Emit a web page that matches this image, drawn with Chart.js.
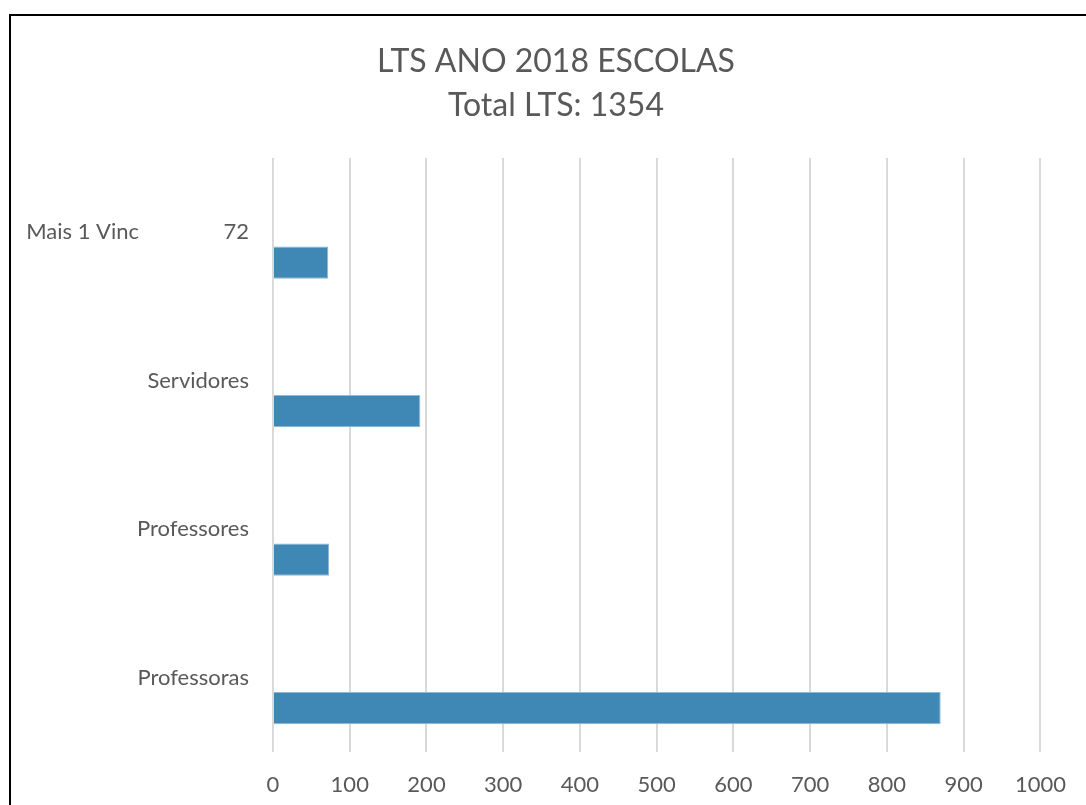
<!DOCTYPE html>
<html lang="pt">
<head>
    <meta charset="UTF-8">
    <title>LTS ANO 2018 ESCOLAS</title>
    <script src="https://cdn.jsdelivr.net/npm/chart.js"></script>
    <style>
        html, body { margin: 0; padding: 0; background: #fff; overflow: hidden; }
        #frame { position: absolute; left: 9px; top: 14px; width: 1200px; height: 900px; border: 2px solid #000; box-sizing: border-box; }
        #wrap { position: absolute; left: 0; top: 0; width: 1086px; height: 805px; }
    </style>
</head>
<body>
    <div id="frame"></div>
    <div id="wrap"><canvas id="ltsChart" width="1086" height="805"></canvas></div>
    <script>
        // Dados
        const titleLines = ['LTS ANO 2018 ESCOLAS', 'Total LTS: 1354'];
        const categories = ['Mais 1 Vinc               72', 'Servidores', 'Professores', 'Professoras'];
        const values = [72, 192, 73, 870];
        const xMin = 0, xMax = 1000, xStep = 100;

        const textColor = '#595959';
        const fontFamily = 'Lato, "Open Sans", sans-serif';

        // o eixo y corta os rótulos na sua largura; alarga a área de corte até à margem
        const unclipLabels = {
            id: 'unclipLabels',
            afterLayout(chart) { chart.scales.y.left = 0; }
        };

        const ctx = document.getElementById('ltsChart').getContext('2d');
        new Chart(ctx, {
            type: 'bar',
            data: {
                labels: categories,
                datasets: [
                    // serie vazia (como no Excel), empurra a barra para baixo
                    { label: '', data: [], backgroundColor: 'rgba(0,0,0,0)' },
                    {
                        label: 'LTS',
                        data: values,
                        backgroundColor: '#3F88B5',
                        borderColor: '#8DB8D6',
                        borderWidth: 1
                    }
                ]
            },
            options: {
                indexAxis: 'y',
                responsive: false,
                animation: false,
                categoryPercentage: 0.82,
                barPercentage: 0.53,
                // padding esquerdo só para centrar o título como no original
                layout: { padding: { left: 64, right: 38, top: 0, bottom: 0 } },
                plugins: {
                    legend: { display: false },
                    tooltip: { enabled: false },
                    title: {
                        display: true,
                        text: titleLines,
                        color: textColor,
                        font: { family: fontFamily, size: 32, weight: 'normal', lineHeight: 1.36 },
                        padding: { top: 40, bottom: 31 }
                    }
                },
                scales: {
                    x: {
                        min: xMin,
                        max: xMax,
                        ticks: {
                            stepSize: xStep,
                            color: textColor,
                            font: { family: fontFamily, size: 22 },
                            padding: 20,
                            callback: v => String(v)
                        },
                        grid: { color: '#D9D9D9', lineWidth: 2, drawTicks: false },
                        border: { display: false },
                        afterFit: scale => { scale.height = 53; }
                    },
                    y: {
                        ticks: {
                            color: textColor,
                            font: { family: fontFamily, size: 22 },
                            padding: 24
                        },
                        grid: { display: false, drawTicks: false },
                        border: { display: false },
                        afterFit: scale => { scale.width = 209; }
                    }
                }
            },
            plugins: [unclipLabels]
        });
    </script>
</body>
</html>
